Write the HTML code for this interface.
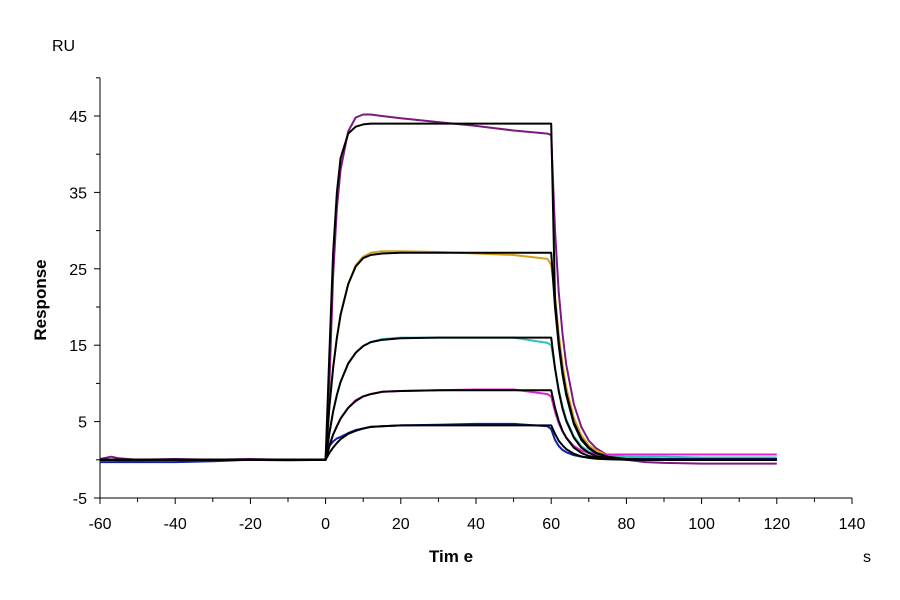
<!DOCTYPE html>
<html><head><meta charset="utf-8"><style>
body{margin:0;background:#fff}
svg{display:block;font-family:"Liberation Sans",Arial,sans-serif}
</style></head><body>
<svg id="c" width="900" height="600" viewBox="0 0 900 600">
<g id="axes"></g>
<g id="series"></g>
<text x="52" y="51" font-size="16">RU</text>
<text transform="translate(46,300) rotate(-90)" text-anchor="middle" font-size="17" font-weight="bold">Response</text>
<text x="451" y="562" text-anchor="middle" font-size="17" font-weight="bold">Tim e</text>
<text x="867" y="562" text-anchor="middle" font-size="16">s</text>
</svg>
<script>
const xTicks=[-60,-40,-20,0,20,40,60,80,100,120,140];
const yTicks=[-5,5,15,25,35,45];
const baseT=[-60,-57,-55,-50,-40,-30,-20,-10,-1];
const assocT=[0,1,2,3,4,6,8,10,12,15,20,30,40,50,59];
const dissT=[60,61,62,63,64,66,68,70,72,75,80,85,90,100,110,120];

const purpleBase=[0.1,0.4,0.2,0,0.1,0,0.1,0,0];
const purpleAssoc=[0,10,24,33,38,43,44.8,45.2,45.2,45,44.7,44.2,43.7,43.1,42.7];
const purpleDiss=[42.5,30,22,16.5,12.5,7.3,4.3,2.5,1.5,0.6,0,-0.3,-0.4,-0.5,-0.5,-0.5];
const goldBase=[0,0,0,0,0,0,0,0,0];
const goldAssoc=[0,7,12,16,19,23,25.5,26.6,27.1,27.3,27.3,27.2,27,26.8,26.3];
const goldDiss=[25.5,21.5,16.5,12.5,9.5,5.5,3.2,1.9,1.2,0.6,0.3,0.2,0.1,0.1,0.1,0.1];
const cyanBase=[0,0,0,0,0,0,0,-0.1,0];
const cyanAssoc=[0,3.5,6.3,8.5,10.2,12.6,14,14.9,15.4,15.8,16,16,16,16,15.3];
const cyanDiss=[15,12,9.2,7,5.3,3.1,1.8,1.1,0.8,0.5,0.4,0.4,0.4,0.3,0.3,0.3];
const magentaBase=[0,0,-0.1,-0.1,0,0,0,0,0];
const magentaAssoc=[0,1.8,3.3,4.4,5.4,6.8,7.8,8.3,8.6,8.9,9,9.1,9.2,9.2,8.6];
const magentaDiss=[8.3,6.3,4.8,3.7,2.9,1.8,1.2,0.9,0.8,0.7,0.7,0.7,0.7,0.7,0.7,0.7];
const blueBase=[-0.3,-0.3,-0.3,-0.3,-0.3,-0.2,0,0,0];
const blueAssoc=[0,1.8,2.4,2.8,3,3.5,3.9,4.1,4.3,4.4,4.5,4.6,4.7,4.7,4.4];
const blueDiss=[4,2.6,1.8,1.3,1,0.6,0.4,0.3,0.2,0.1,0.1,0.1,0.1,0.1,0.1,0.1];

const fitBase=[0,0,0,0,0,0,0,0,0];
const fit1Assoc=[0,14,27,35,39.5,42.7,43.6,43.9,44,44,44,44,44,44,44];
const fit1Diss=[44,21,15.5,11.6,8.8,4.9,2.8,1.6,0.9,0.4,0.1,0.03,0,0,0,0];
const fit2Assoc=[0,7,12,16,19,23,25.3,26.4,26.8,27,27.1,27.1,27.1,27.1,27.1];
const fit2Diss=[27.1,20,15,11.2,8.5,4.7,2.6,1.5,0.85,0.35,0.08,0.03,0,0,0,0];
const fit3Assoc=[0,3.5,6.3,8.5,10.2,12.6,14,14.9,15.4,15.7,15.9,16,16,16,16];
const fit3Diss=[16,12,9,6.7,5.1,2.9,1.6,0.9,0.5,0.2,0.05,0,0,0,0,0];
const fit4Assoc=[0,1.8,3.3,4.4,5.4,6.8,7.7,8.3,8.6,8.9,9,9.1,9.1,9.1,9.1];
const fit4Diss=[9.1,6.8,5.1,3.8,2.9,1.6,0.9,0.5,0.3,0.12,0.03,0,0,0,0,0];
const fit5Assoc=[0,0.9,1.6,2.2,2.7,3.4,3.8,4.1,4.3,4.4,4.5,4.5,4.5,4.5,4.5];
const fit5Diss=[4.5,3.4,2.5,1.9,1.4,0.8,0.45,0.25,0.15,0.06,0,0,0,0,0,0];

const NS='http://www.w3.org/2000/svg';
const X0=100,X1=852,Y0=498,Y1=116;
const xs=v=>X0+(v+60)*(X1-X0)/200;
const ys=v=>Y0-(v+5)*(Y0-Y1)/50;
function mk(tag,attrs,parent){const e=document.createElementNS(NS,tag);for(const k in attrs)e.setAttribute(k,attrs[k]);parent.appendChild(e);return e;}
const ax=document.getElementById('axes');
let e=mk('line',{x1:X0,y1:78,x2:X0,y2:Y0,stroke:'#000','stroke-width':1},ax);


e=mk('line',{x1:X0,y1:Y0,x2:X1,y2:Y0,stroke:'#000','stroke-width':1},ax);


xTicks.forEach((t,i)=>{
  const x=xs(t);
  const l=mk('line',{x1:x,y1:Y0,x2:x,y2:Y0+6,stroke:'#000'},ax);
  
  
  if(i<xTicks.length-1){const m=mk('line',{x1:xs(t+10),y1:Y0,x2:xs(t+10),y2:Y0+4,stroke:'#000'},ax);
  
  }
  const tx=mk('text',{x:x,y:Y0+31,'text-anchor':'middle','font-size':16},ax);tx.textContent=t;
  
  
});
yTicks.forEach((t,i)=>{
  const y=ys(t);
  const l=mk('line',{x1:X0-6,y1:y,x2:X0,y2:y,stroke:'#000'},ax);
  
  
  const m=mk('line',{x1:X0-4,y1:ys(t+5),x2:X0,y2:ys(t+5),stroke:'#000'},ax);
  
  
  const tx=mk('text',{x:X0-13,y:y+6,'text-anchor':'end','font-size':16},ax);tx.textContent=t;
  
  
});
const sg=document.getElementById('series');
function draw(name,color,w,base,assoc,diss){
  const pts=[];
  baseT.forEach((t,i)=>pts.push([t,base[i]]));
  assocT.forEach((t,i)=>pts.push([t,assoc[i]]));
  dissT.forEach((t,i)=>pts.push([t,diss[i]]));
  const d=pts.map((p,i)=>(i?'L':'M')+xs(p[0]).toFixed(1)+','+ys(p[1]).toFixed(1)).join('');
  const p=mk('path',{d:d,fill:'none',stroke:color,'stroke-width':w,'stroke-linejoin':'round'},sg);
  
  
}
draw('series-purple','#7a1a7e',2,purpleBase,purpleAssoc,purpleDiss);
draw('series-gold','#d4a020',2,goldBase,goldAssoc,goldDiss);
draw('series-cyan','#30c0c0',2,cyanBase,cyanAssoc,cyanDiss);
draw('series-magenta','#e020d0',2,magentaBase,magentaAssoc,magentaDiss);
draw('series-blue','#1020a0',2,blueBase,blueAssoc,blueDiss);
draw('fit-1','#000',2,fitBase,fit1Assoc,fit1Diss);
draw('fit-2','#000',2,fitBase,fit2Assoc,fit2Diss);
draw('fit-3','#000',2,fitBase,fit3Assoc,fit3Diss);
draw('fit-4','#000',2,fitBase,fit4Assoc,fit4Diss);
draw('fit-5','#000',2,fitBase,fit5Assoc,fit5Diss);
</script>
</body></html>
